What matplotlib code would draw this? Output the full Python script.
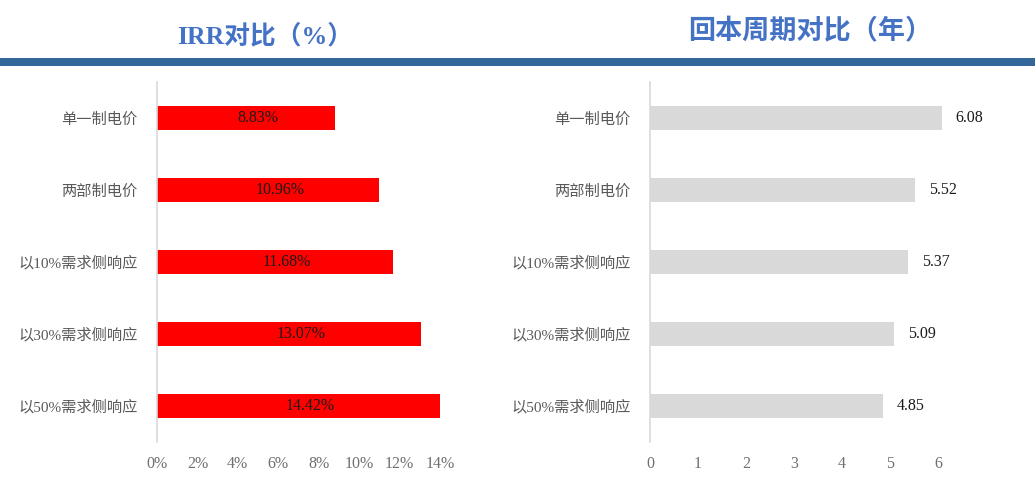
import matplotlib
matplotlib.use("Agg")
import matplotlib.pyplot as plt
from matplotlib.patches import Rectangle
from matplotlib.ticker import FuncFormatter

categories = ["单一制电价", "两部制电价", "以10%需求侧响应", "以30%需求侧响应", "以50%需求侧响应"]
irr_values = [8.83, 10.96, 11.68, 13.07, 14.42]
payback_values = [6.08, 5.52, 5.37, 5.09, 4.85]
irr_ticks = [0, 2, 4, 6, 8, 10, 12, 14]
payback_ticks = [0, 1, 2, 3, 4, 5, 6]
title_left = "IRR对比（%）"
title_right = "回本周期对比（年）"

FAM = ["Liberation Serif", "Noto Sans CJK SC"]
plt.rcParams["font.family"] = FAM

W, H = 1035, 499
fig = plt.figure(figsize=(W / 100, H / 100), dpi=100)

def fx(px):
    return px / W

def fy(py):
    return 1 - py / H

# blue band
fig.add_artist(Rectangle((0, fy(66)), 1, (66 - 58) / H, transform=fig.transFigure,
                         color="#34679A", lw=0))

title_color = "#4472C4"
fig.text(fx(265), fy(36), title_left, ha="center", va="center", fontsize=18.5,
         fontweight="bold", color=title_color, family=FAM)
fig.text(fx(810), fy(32), title_right, ha="center", va="center", fontsize=19.5,
         fontweight="bold", color=title_color, family=FAM)

top, bot = 82, 442
axL = fig.add_axes([fx(157), fy(bot), fx(440) - fx(157), (bot - top) / H])
axR = fig.add_axes([fx(650), fy(bot), fx(962) - fx(650), (bot - top) / H])

ypos = list(range(len(categories)))
bar_h = 0.33

def style(ax):
    for s in ["top", "right", "bottom"]:
        ax.spines[s].set_visible(False)
    ax.spines["left"].set_color("#D9D9D9")
    ax.spines["left"].set_linewidth(1.2)
    ax.tick_params(axis="both", length=0, colors="#6f6f6f", labelsize=11.5)
    ax.tick_params(axis="y", pad=14, labelsize=11, colors="#595959")
    ax.set_ylim(len(categories) - 0.5, -0.5)
    ax.set_yticks(ypos)
    ax.set_yticklabels(categories, family=FAM)
    ax.tick_params(axis="x", pad=10)

# left: IRR
irr_max = 14
axL.barh(ypos, irr_values, height=bar_h, color="#FF0000", zorder=2)
axL.set_xlim(0, irr_max)
axL.set_xticks(irr_ticks)
axL.xaxis.set_major_formatter(FuncFormatter(lambda v, p: f"{v:.0f}%"))
style(axL)
for y, v in zip(ypos, irr_values):
    axL.text(min(v, irr_max) / 2 + 0.6, y, f"{v:.2f}%", ha="center", va="center",
             fontsize=11.5, color="#1a1a1a", family=FAM, zorder=3)

# right: payback
axR.barh(ypos, payback_values, height=bar_h, color="#D9D9D9", zorder=2)
axR.set_xlim(0, 6.5)
axR.set_xticks(payback_ticks)
style(axR)
for y, v in zip(ypos, payback_values):
    axR.annotate(f"{v:.2f}", (v, y), xytext=(10, 0), textcoords="offset points",
                 ha="left", va="center", fontsize=11.5, color="#1a1a1a", family=FAM)

fig.savefig("out.png", dpi=100)
